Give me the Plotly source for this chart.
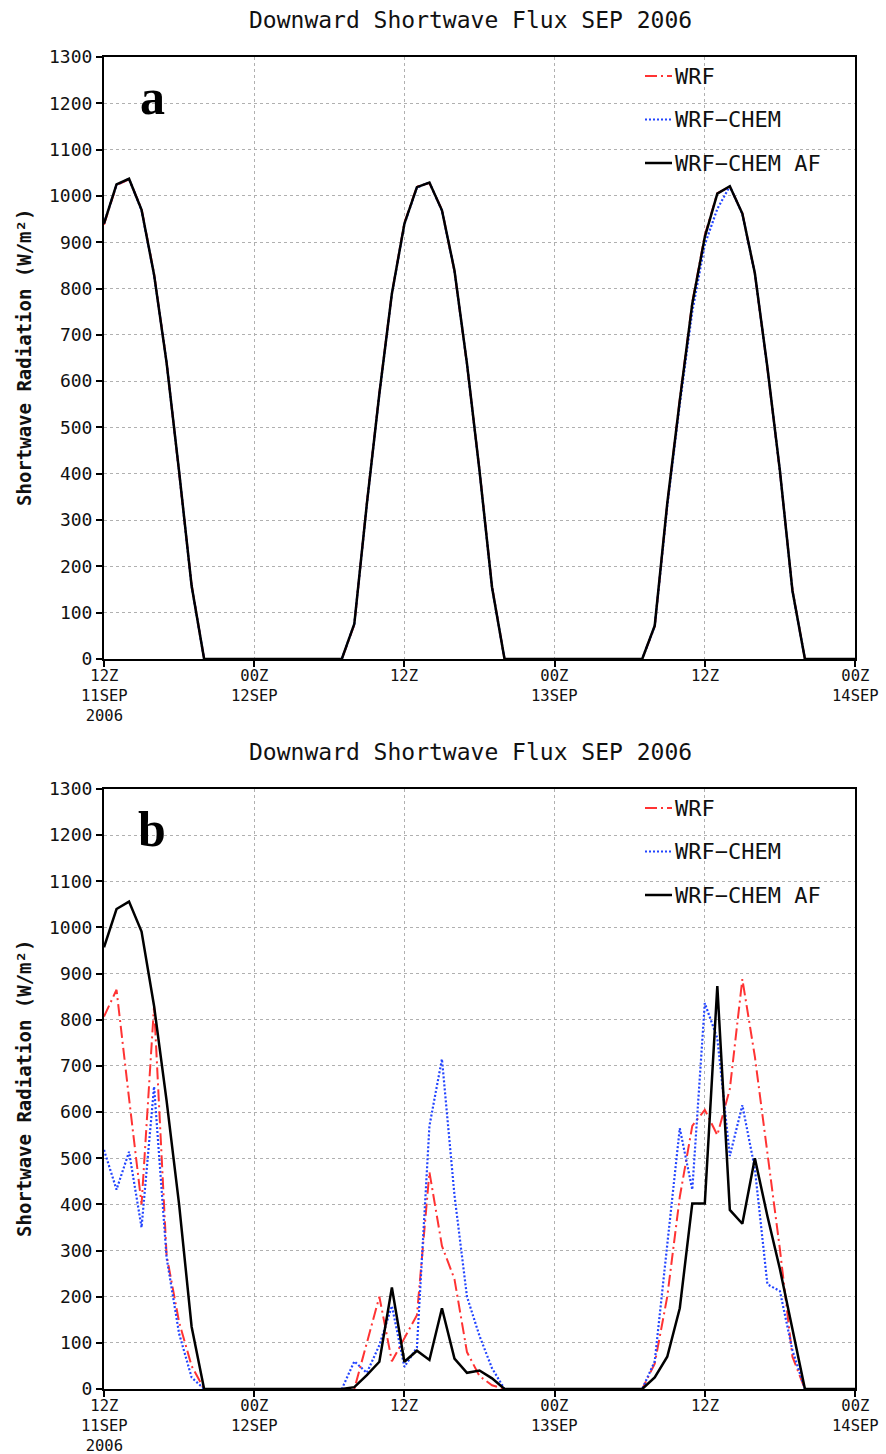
import plotly.graph_objects as go

# ---------------- data ----------------
hours = list(range(61))  # hours since 12Z 11 SEP 2006
xtick_vals = [0, 12, 24, 36, 48, 60]
xtick_lines = [["12Z", "11SEP", "2006"], ["00Z", "12SEP"], ["12Z"],
               ["00Z", "13SEP"], ["12Z"], ["00Z", "14SEP"]]
ytick_vals = list(range(0, 1301, 100))
series_names = ["WRF", "WRF−CHEM", "WRF−CHEM AF"]
title_text = "Downward Shortwave Flux SEP 2006"
ytitle_text = "Shortwave Radiation (W/m²)"

# panel a
wrf_a = [938, 1023, 1036, 972, 832, 642, 402, 160, 0,
         0, 0, 0, 0, 0, 0, 0, 0, 0, 0,
         0, 74, 337, 575, 790, 942, 1020, 1028, 970, 837, 636, 409, 157, 0,
         0, 0, 0, 0, 0, 0, 0, 0, 0, 0,
         0, 70, 334, 560, 770, 915, 1006, 1020, 963, 832, 628, 405, 150, 0,
         0, 0, 0, 0]
chem_a = [941, 1024, 1037, 969, 829, 641, 404, 157, 0,
          0, 0, 0, 0, 0, 0, 0, 0, 0, 0,
          0, 76, 334, 572, 788, 939, 1018, 1029, 968, 838, 637, 406, 154, 0,
          0, 0, 0, 0, 0, 0, 0, 0, 0, 0,
          0, 71, 330, 550, 750, 895, 972, 1021, 961, 832, 629, 406, 147, 0,
          0, 0, 0, 0]
af_a = [940, 1025, 1037, 970, 830, 640, 405, 158, 0,
        0, 0, 0, 0, 0, 0, 0, 0, 0, 0,
        0, 76, 335, 573, 789, 940, 1019, 1029, 969, 839, 638, 407, 155, 0,
        0, 0, 0, 0, 0, 0, 0, 0, 0, 0,
        0, 72, 336, 558, 767, 911, 1005, 1021, 962, 833, 630, 407, 148, 0,
        0, 0, 0, 0]

# panel b
wrf_b = [807, 865, 630, 400, 830, 290, 145, 50, 0,
         0, 0, 0, 0, 0, 0, 0, 0, 0, 0,
         0, 0, 100, 200, 60, 110, 160, 470, 310, 238, 80, 28, 8, 0,
         0, 0, 0, 0, 0, 0, 0, 0, 0, 0,
         0, 55, 200, 416, 570, 605, 550, 650, 888, 720, 510, 303, 70, 0,
         0, 0, 0, 0]
chem_b = [518, 432, 514, 350, 655, 285, 120, 25, 0,
          0, 0, 0, 0, 0, 0, 0, 0, 0, 0,
          0, 60, 35, 95, 180, 48, 90, 570, 715, 420, 200, 115, 45, 0,
          0, 0, 0, 0, 0, 0, 0, 0, 0, 0,
          0, 60, 315, 565, 432, 836, 760, 505, 615, 477, 227, 212, 84, 0,
          0, 0, 0, 0]
af_b = [957, 1040, 1056, 991, 830, 625, 400, 135, 0,
        0, 0, 0, 0, 0, 0, 0, 0, 0, 0,
        0, 4, 30, 59, 220, 59, 83, 63, 175, 66, 35, 40, 23, 0,
        0, 0, 0, 0, 0, 0, 0, 0, 0, 0,
        0, 25, 70, 175, 402, 402, 873, 388, 358, 500, 375, 260, 130, 0,
        0, 0, 0, 0]

# ---------------- style ----------------
W, H = 886, 1454
L, R, T, B = 104, 855, 57, 1389
FONT = "DejaVu Sans Mono"
RED, BLUE, BLACK = "#ff3333", "#2244ff", "#000000"
styles = [dict(color=RED, width=2, dash="12px,4px,2px,4px"),
          dict(color=BLUE, width=2.2, dash="2px,2px"),
          dict(color=BLACK, width=2.5, dash="solid")]


def px_x(px):
    return (px - L) / (R - L)


def px_y(py):
    return (B - py) / (B - T)


panels = [
    dict(data=[wrf_a, chem_a, af_a], xa="x", ya="y", top=57, bot=659, letter="a"),
    dict(data=[wrf_b, chem_b, af_b], xa="x2", ya="y2", top=789, bot=1389, letter="b"),
]

fig = go.Figure()
annotations = []
shapes = []

for p in panels:
    for name, vals, st in zip(series_names, p["data"], styles):
        fig.add_trace(go.Scatter(x=hours, y=vals, mode="lines", name=name,
                                 line=st, xaxis=p["xa"], yaxis=p["ya"],
                                 showlegend=False))
    top, bot = p["top"], p["bot"]
    # title
    annotations.append(dict(text=title_text, xref="paper", yref="paper",
                            x=px_x(470.5), y=px_y(top - 37), showarrow=False,
                            xanchor="center", yanchor="middle",
                            font=dict(family=FONT, size=23, color="#111")))
    # y axis title
    annotations.append(dict(text=ytitle_text, xref="paper", yref="paper",
                            x=px_x(24), y=px_y((top + bot) / 2), showarrow=False,
                            textangle=-90, xanchor="center", yanchor="middle",
                            font=dict(family=FONT, size=19, color="#111",
                                      weight="bold")))
    # x tick labels (multi-line, one text block per tick)
    for v, lines in zip(xtick_vals, xtick_lines):
        annotations.append(dict(text="<br>".join(lines), xref=p["xa"], yref="paper",
                                x=v, y=px_y(bot + 7), showarrow=False,
                                xanchor="center", yanchor="top", align="center",
                                borderpad=0,
                                font=dict(family=FONT, size=15.5, color="#111")))
    # panel letter
    annotations.append(dict(text="<b>" + p["letter"] + "</b>", xref="paper",
                            yref="paper", x=px_x(152), y=px_y(top + 40),
                            showarrow=False, xanchor="center", yanchor="middle",
                            font=dict(family="Liberation Serif", size=50,
                                      color="#000")))
    # legend
    for i, (name, st) in enumerate(zip(series_names, styles)):
        ly = top + 19 + 43.5 * i
        shapes.append(dict(type="line", xref="paper", yref="paper",
                           x0=px_x(645), x1=px_x(672), y0=px_y(ly), y1=px_y(ly),
                           line=st))
        annotations.append(dict(text=name, xref="paper", yref="paper",
                                x=px_x(673), y=px_y(ly), showarrow=False,
                                xanchor="left", yanchor="middle",
                                font=dict(family=FONT, size=22, color="#111")))

axis_common = dict(showline=True, linecolor="black", linewidth=2, mirror=True,
                   ticks="outside", tickcolor="black", tickwidth=1.5, ticklen=6,
                   showgrid=True, gridcolor="#b0b0b0", griddash="dot",
                   gridwidth=1, zeroline=False)

fig.update_layout(
    width=W, height=H,
    margin=dict(l=L, r=W - R, t=T, b=H - B, pad=0),
    paper_bgcolor="white", plot_bgcolor="white",
    showlegend=False,
    xaxis=dict(axis_common, domain=[0, 1], anchor="y", range=[0, 60],
               tickvals=xtick_vals, showticklabels=False),
    yaxis=dict(axis_common, domain=[px_y(659), 1], anchor="x", range=[0, 1300],
               tickvals=ytick_vals,
               tickfont=dict(family=FONT, size=18, color="#111")),
    xaxis2=dict(axis_common, domain=[0, 1], anchor="y2", range=[0, 60],
                tickvals=xtick_vals, showticklabels=False),
    yaxis2=dict(axis_common, domain=[0, px_y(789)], anchor="x2", range=[0, 1300],
                tickvals=ytick_vals,
                tickfont=dict(family=FONT, size=18, color="#111")),
    annotations=annotations,
    shapes=shapes,
)

fig.write_html("out.html")
